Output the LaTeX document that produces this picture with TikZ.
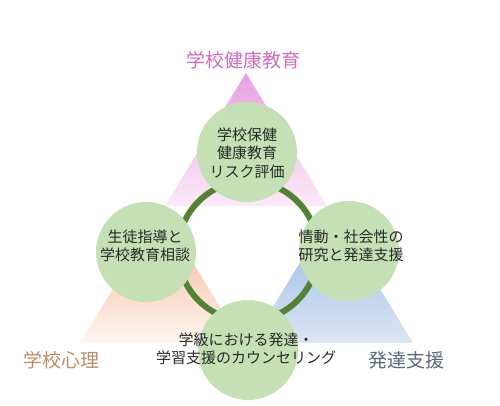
\documentclass[tikz,border=0pt]{standalone}
\usepackage{fontspec}
\newfontfamily\jpfont{Noto Sans CJK JP}
\definecolor{pinkA}{RGB}{233,160,225}
\definecolor{pinkB}{RGB}{251,234,248}
\definecolor{orA}{RGB}{243,176,142}
\definecolor{orB}{RGB}{254,246,240}
\definecolor{blA}{RGB}{141,179,226}
\definecolor{blB}{RGB}{221,231,244}
\definecolor{blobfill}{RGB}{197,224,180}
\definecolor{ringcol}{RGB}{84,130,53}
\definecolor{pinktxt}{RGB}{208,108,188}
\definecolor{brtxt}{RGB}{188,140,100}
\definecolor{bltxt}{RGB}{90,105,125}
\definecolor{bodytxt}{RGB}{40,40,40}
\begin{document}
\begin{tikzpicture}[x=1pt,y=-1pt,
  blob/.style={circle,fill=blobfill,draw=none,minimum size=100pt,inner sep=0pt},
  txt/.style={align=center,text=bodytxt,inner sep=0pt,font=\jpfont\fontsize{15}{18.5}\selectfont},
  title/.style={inner sep=0pt,font=\jpfont\fontsize{19}{22}\selectfont},
  ringline/.style={draw=ringcol,line width=6pt}]
\useasboundingbox (0,0) rectangle (500,405);
\fill[white] (0,0) rectangle (500,405);
% triangles
\shade[top color=pinkA,bottom color=pinkB] (246,73) -- (327,206) -- (165,206) -- cycle;
\shade[top color=orA,bottom color=orB] (161,210) -- (242,343) -- (80,343) -- cycle;
\shade[top color=blA,bottom color=blB] (332,210) -- (413,343) -- (251,343) -- cycle;
% ring
\coordinate (ringc) at (248,251);
\draw[ringline] (ringc) circle (70);
% circles
\node[blob] (ctop) at (247,152) {};
\node[blob] (cleft) at (146,252) {};
\node[blob] (cright) at (349,251) {};
\node[blob] (cbot) at (248,350) {};
% circle texts
\node[txt] (ttop) at (247,153) {学校保健\\健康教育\\リスク評価};
\node[txt] (tleft) at (145,246) {生徒指導と\\学校教育相談};
\node[txt] (tright) at (351,246) {情動・社会性の\\研究と発達支援};
\node[txt] (tbot) at (246,349) {学級における発達・\\学習支援のカウンセリング};
% titles
\node[title,text=pinktxt] (lhealth) at (243,60) {学校健康教育};
\node[title,text=brtxt] (lpsy) at (61,360) {学校心理};
\node[title,text=bltxt] (ldev) at (406,360) {発達支援};
\end{tikzpicture}
\end{document}
